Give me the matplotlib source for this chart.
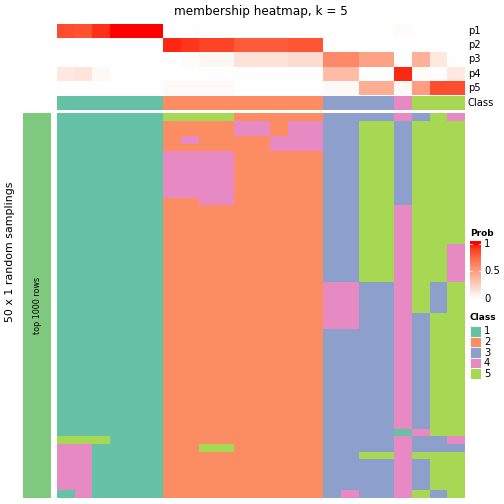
import numpy as np
import matplotlib
matplotlib.use("Agg")
import matplotlib.pyplot as plt
from matplotlib.colors import ListedColormap

# class colours and labels
class_colors = ["#66C2A5", "#FC8D62", "#8DA0CB", "#E78AC3", "#A6D854"]
class_names = ["1", "2", "3", "4", "5"]
strip_color = "#7FC97F"

# consensus class per column
class_labels = [1, 1, 1, 1, 1, 1, 2, 2, 2, 2, 2, 2, 2, 2, 2, 3, 3, 3, 3, 4, 5, 5, 5]

# membership probabilities per column
p1 = [0.85, 0.83, 0.93, 1, 1, 1, 0, 0, 0, 0, 0, 0, 0, 0, 0, 0, 0, 0, 0, 0.02, 0, 0, 0]
p2 = [0, 0, 0, 0, 0, 0, 0.95, 0.92, 0.88, 0.88, 0.8, 0.8, 0.8, 0.82, 0.82, 0, 0, 0, 0, 0, 0, 0, 0]
p3 = [0, 0, 0, 0, 0, 0, 0, 0.02, 0.05, 0.05, 0.15, 0.15, 0.15, 0.18, 0.18, 0.6, 0.6, 0.48, 0.48, 0, 0.4, 0.12, 0]
p4 = [0.12, 0.14, 0.03, 0, 0, 0, 0, 0, 0, 0, 0, 0, 0, 0, 0, 0.35, 0.35, 0, 0, 0.95, 0.02, 0, 0.12]
p5 = [0, 0, 0, 0, 0, 0, 0.03, 0.03, 0.03, 0.03, 0, 0, 0, 0, 0, 0.03, 0.03, 0.42, 0.42, 0.03, 0.5, 0.85, 0.85]
prob_names = ["p1", "p2", "p3", "p4", "p5"]

# class assigned in each of the 50 random samplings (rows) per column
membership_rows = (
    ["111111 555522222 3333 4 354"]
    + ["111111 222244244 3355 3 555"] * 2
    + ["111111 242222444 3355 3 555"]
    + ["111111 222222444 3355 3 555"]
    + ["111111 444422222 3355 3 555"] * 6
    + ["111111 224422222 3355 3 555"]
    + ["111111 222222222 3355 4 555"] * 5
    + ["111111 222222222 3355 4 554"] * 5
    + ["111111 222222222 4433 4 535"] * 4
    + ["111111 222222222 4433 4 355"] * 2
    + ["111111 222222222 3333 4 355"] * 13
    + ["111111 222222222 3333 1 455"]
    + ["555111 222222222 3333 4 334"]
    + ["441111 225522222 3333 4 333"]
    + ["441111 222222222 3355 4 555"]
    + ["441111 222222222 3333 4 355"] * 4
    + ["141111 222222222 3433 4 535"]
)
membership = np.array([[int(c) for c in r.replace(" ", "")] for r in membership_rows])


# white -> red colour ramp interpolated in LAB space
def srgb_to_lab(rgb):
    rgb = np.asarray(rgb, float)
    lin = np.where(rgb <= 0.04045, rgb / 12.92, ((rgb + 0.055) / 1.055) ** 2.4)
    m = np.array([[0.4124, 0.3576, 0.1805], [0.2126, 0.7152, 0.0722], [0.0193, 0.1192, 0.9505]])
    xyz = m @ lin / np.array([0.95047, 1.0, 1.08883])
    f = np.where(xyz > 0.008856, np.cbrt(xyz), 7.787 * xyz + 16 / 116)
    return np.array([116 * f[1] - 16, 500 * (f[0] - f[1]), 200 * (f[1] - f[2])])


def lab_to_srgb(lab):
    fy = (lab[0] + 16) / 116
    fx = fy + lab[1] / 500
    fz = fy - lab[2] / 200
    f = np.array([fx, fy, fz])
    xyz = np.where(f ** 3 > 0.008856, f ** 3, (f - 16 / 116) / 7.787) * np.array([0.95047, 1.0, 1.08883])
    m = np.array([[3.2406, -1.5372, -0.4986], [-0.9689, 1.8758, 0.0415], [0.0557, -0.2040, 1.0570]])
    lin = np.clip(m @ xyz, 0, 1)
    return np.where(lin <= 0.0031308, 12.92 * lin, 1.055 * lin ** (1 / 2.4) - 0.055)


lab_w = srgb_to_lab([1, 1, 1])
lab_r = srgb_to_lab([1, 0, 0])
prob_cmap = ListedColormap([np.clip(lab_to_srgb(lab_w + t * (lab_r - lab_w)), 0, 1)
                            for t in np.linspace(0, 1, 256)])
class_cmap = ListedColormap(class_colors)

W = H = 504
fig = plt.figure(figsize=(7, 7), dpi=72)


def px_axes(x0, y0, x1, y1):
    ax = fig.add_axes([x0 / W, 1 - y1 / H, (x1 - x0) / W, (y1 - y0) / H])
    ax.set_axis_off()
    return ax


hm_left, hm_right = 57.3, 465

# probability rows
ax_p = px_axes(hm_left, 24, hm_right, 95)
ax_p.imshow(np.array([p1, p2, p3, p4, p5]), cmap=prob_cmap, vmin=0, vmax=1,
            aspect="auto", interpolation="nearest")
for i, name in enumerate(prob_names):
    fig.text(468 / W, 1 - (31 + 14.2 * i) / H, name, ha="left", va="center", fontsize=10)

# class row
ax_c = px_axes(hm_left, 96, hm_right, 110)
ax_c.imshow(np.array([class_labels]), cmap=class_cmap, vmin=0.5, vmax=5.5,
            aspect="auto", interpolation="nearest")
fig.text(468 / W, 1 - 103 / H, "Class", ha="left", va="center", fontsize=10)

# main membership heatmap
ax_m = px_axes(hm_left, 112.7, hm_right, 497.7)
ax_m.imshow(membership, cmap=class_cmap, vmin=0.5, vmax=5.5,
            aspect="auto", interpolation="nearest")

# left strip
ax_s = px_axes(23, 112.7, 51, 497.7)
ax_s.set_xlim(0, 1)
ax_s.set_ylim(0, 1)
ax_s.add_patch(plt.Rectangle((0, 0), 1, 1, color=strip_color))
ax_s.text(0.5, 0.5, "top 1000 rows", rotation=90, ha="center", va="center", fontsize=8)

fig.text(10.5 / W, 1 - 252 / H, "50 x 1 random samplings", rotation=90,
         ha="center", va="center", fontsize=11)
fig.text(261 / W, 1 - 11 / H, "membership heatmap, k = 5", ha="center", va="center", fontsize=12)

# Prob legend
fig.text(470 / W, 1 - 233 / H, "Prob", ha="left", va="center", fontsize=9, fontweight="bold")
ax_l = px_axes(470, 241, 481, 302)
lo, hi = -3 / 55.3, 1 + 2.7 / 55.3
grad = np.clip(np.linspace(hi, lo, 100), 0, 1)[:, None]
ax_l.imshow(grad, cmap=prob_cmap, vmin=0, vmax=1, aspect="auto", extent=[0, 1, lo, hi])
ax_l.set_xlim(0, 1)
ax_l.set_ylim(lo, hi)
for v, lab in [(1, "1"), (0.5, "0.5"), (0, "0")]:
    ax_l.plot([0, 0.2], [v, v], color="white", lw=0.8)
    ax_l.plot([0.8, 1], [v, v], color="white", lw=0.8)
    fig.text(484 / W, 1 - (299 - v * 55.3) / H, lab, ha="left", va="center", fontsize=10)

# Class legend
fig.text(470 / W, 1 - 317 / H, "Class", ha="left", va="center", fontsize=9, fontweight="bold")
for k, (col, name) in enumerate(zip(class_colors, class_names)):
    y0 = 326 + 10.6 * k
    ax_b = px_axes(470, y0, 481.3, y0 + 10.6)
    ax_b.set_xlim(0, 1)
    ax_b.set_ylim(0, 1)
    ax_b.add_patch(plt.Rectangle((0, 0), 1, 1, facecolor=col, edgecolor="white", lw=0.8))
    fig.text(484 / W, 1 - (y0 + 5.3) / H, name, ha="left", va="center", fontsize=10)

fig.savefig("out.png", dpi=72)
